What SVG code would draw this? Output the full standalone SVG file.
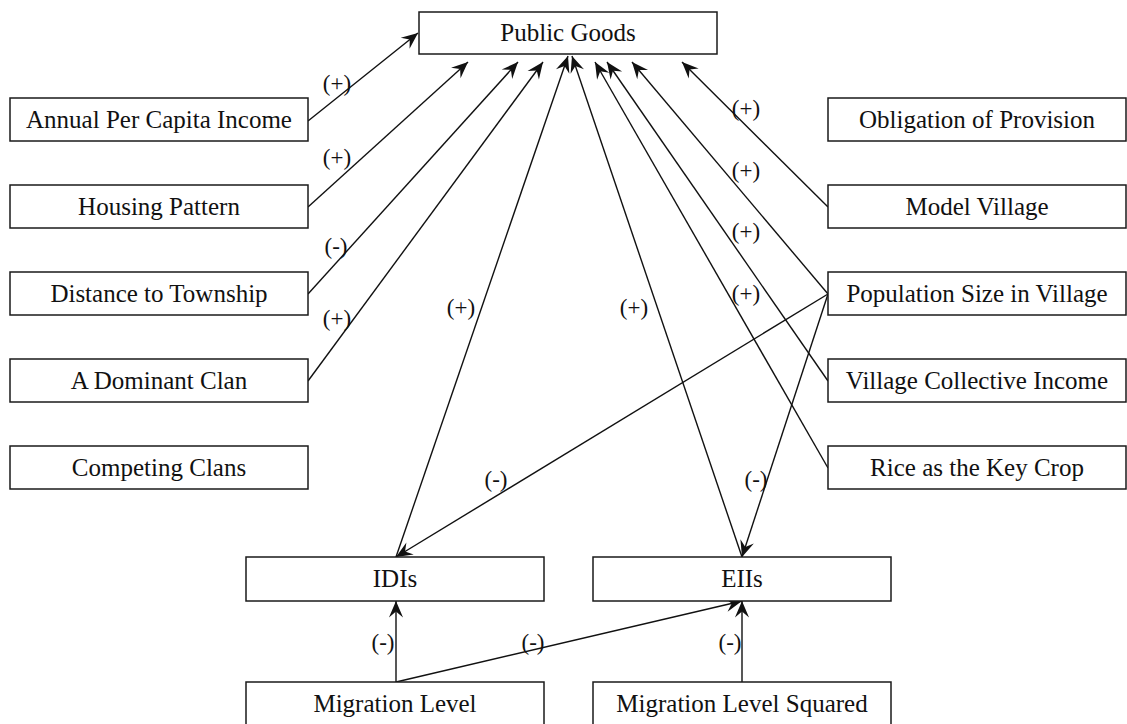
<svg xmlns="http://www.w3.org/2000/svg" width="1127" height="724" viewBox="0 0 1127 724">
<style>
.box{fill:#fff;stroke:#1a1a1a;stroke-width:1.5}
.t{font-family:"Liberation Serif",serif;font-size:25px;fill:#111;text-anchor:middle}
.l{font-family:"Liberation Serif",serif;font-size:23px;fill:#111;text-anchor:middle}
.c{stroke:#111;stroke-width:1.4;fill:none;marker-end:url(#ah)}
</style>
<defs>
<marker id="ah" markerUnits="userSpaceOnUse" orient="auto" refX="0" refY="0" markerWidth="20" markerHeight="20" viewBox="-15 -8 17 16" overflow="visible">
<path d="M0,0 L-14,-6 L-9,0 L-14,6 Z" fill="#111"/>
</marker>
</defs>
<rect width="1127" height="724" fill="#fff"/>
<g id="connectors">
<line class="c" x1="308" y1="121" x2="418" y2="33"/>
<line class="c" x1="308" y1="207" x2="468" y2="62"/>
<line class="c" x1="308" y1="294" x2="518" y2="62"/>
<line class="c" x1="308" y1="381" x2="543" y2="62"/>
<line class="c" x1="396" y1="557" x2="568" y2="56"/>
<line class="c" x1="742" y1="557" x2="572" y2="56"/>
<line class="c" x1="828" y1="468" x2="595" y2="62"/>
<line class="c" x1="828" y1="381" x2="607" y2="62"/>
<line class="c" x1="828" y1="294" x2="632" y2="62"/>
<line class="c" x1="828" y1="207" x2="682" y2="62"/>
<line class="c" x1="828" y1="294" x2="396" y2="557"/>
<line class="c" x1="828" y1="294" x2="742" y2="557"/>
<line class="c" x1="396" y1="682" x2="396" y2="601"/>
<line class="c" x1="396" y1="682" x2="742" y2="601"/>
<line class="c" x1="742" y1="682" x2="742" y2="601"/>
<g id="labels">
<text class="l" x="337" y="91">(+)</text>
<text class="l" x="337" y="165">(+)</text>
<text class="l" x="336" y="254">(-)</text>
<text class="l" x="337" y="326">(+)</text>
<text class="l" x="461" y="315">(+)</text>
<text class="l" x="634" y="315">(+)</text>
<text class="l" x="746" y="116">(+)</text>
<text class="l" x="746" y="178">(+)</text>
<text class="l" x="746" y="239">(+)</text>
<text class="l" x="746" y="301">(+)</text>
<text class="l" x="496" y="487">(-)</text>
<text class="l" x="756" y="487">(-)</text>
<text class="l" x="383" y="650">(-)</text>
<text class="l" x="533" y="650">(-)</text>
<text class="l" x="730" y="650">(-)</text>
</g>
</g>
<g id="public-goods"><rect class="box" x="419" y="12" width="298" height="42"/><text class="t" x="568" y="41">Public Goods</text></g>
<g id="annual-income"><rect class="box" x="10" y="98" width="298" height="43"/><text class="t" x="159" y="128">Annual Per Capita Income</text></g>
<g id="housing"><rect class="box" x="10" y="185" width="298" height="43"/><text class="t" x="159" y="215">Housing Pattern</text></g>
<g id="distance"><rect class="box" x="10" y="272" width="298" height="43"/><text class="t" x="159" y="302">Distance to Township</text></g>
<g id="dominant-clan"><rect class="box" x="10" y="359" width="298" height="43"/><text class="t" x="159" y="389">A Dominant Clan</text></g>
<g id="competing-clans"><rect class="box" x="10" y="446" width="298" height="43"/><text class="t" x="159" y="476">Competing Clans</text></g>
<g id="obligation"><rect class="box" x="828" y="98" width="298" height="43"/><text class="t" x="977" y="128">Obligation of Provision</text></g>
<g id="model-village"><rect class="box" x="828" y="185" width="298" height="43"/><text class="t" x="977" y="215">Model Village</text></g>
<g id="population"><rect class="box" x="828" y="272" width="298" height="43"/><text class="t" x="977" y="302">Population Size in Village</text></g>
<g id="collective-income"><rect class="box" x="828" y="359" width="298" height="43"/><text class="t" x="977" y="389">Village Collective Income</text></g>
<g id="rice"><rect class="box" x="828" y="446" width="298" height="43"/><text class="t" x="977" y="476">Rice as the Key Crop</text></g>
<g id="idis"><rect class="box" x="246" y="557" width="298" height="44"/><text class="t" x="395" y="587">IDIs</text></g>
<g id="eiis"><rect class="box" x="593" y="557" width="298" height="44"/><text class="t" x="742" y="587">EIIs</text></g>
<g id="migration"><rect class="box" x="246" y="682" width="298" height="60"/><text class="t" x="395" y="712">Migration Level</text></g>
<g id="migration-sq"><rect class="box" x="593" y="682" width="298" height="60"/><text class="t" x="742" y="712">Migration Level Squared</text></g>
</svg>
